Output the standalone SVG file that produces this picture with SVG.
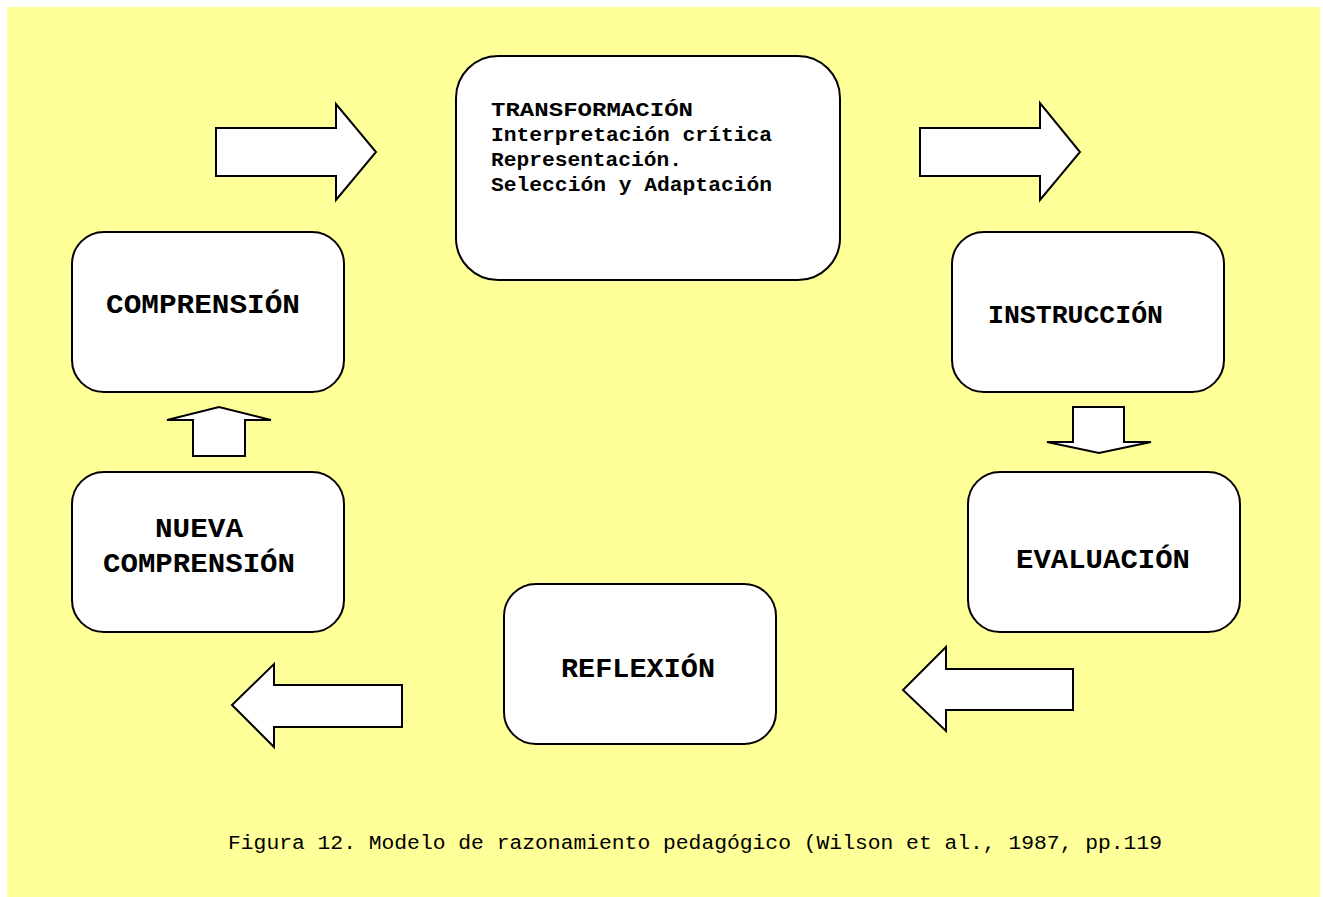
<svg xmlns="http://www.w3.org/2000/svg" width="1323" height="897" viewBox="0 0 1323 897">
<style>
.box{fill:#fff;stroke:#000;stroke-width:2}
.arr{fill:#fff;stroke:#000;stroke-width:2;stroke-linejoin:miter}
.t{font-family:"Liberation Mono","Courier New",monospace;font-weight:bold;fill:#000}
.cap{font-family:"Liberation Mono","Courier New",monospace;fill:#000;font-size:20px}
</style>
<rect x="7" y="7" width="1313" height="890" fill="#FFFF99"/>
<g id="connectors">
<polygon class="arr" points="216,128 336,128 336,104 376,152 336,200 336,176 216,176"/>
<polygon class="arr" points="920,128 1040,128 1040,103 1080,152 1040,200 1040,176 920,176"/>
<polygon class="arr" points="1073,407 1124,407 1124,442 1151,442 1099,453 1047,442 1073,442"/>
<polygon class="arr" points="1073,669 946,669 946,647 903,690 946,731 946,710 1073,710"/>
<polygon class="arr" points="402,685 274,685 274,664 232,705 274,747 274,727 402,727"/>
<polygon class="arr" points="193,456 193,420 167,420 219,407 271,420 245,420 245,456"/>
</g>
<g id="transformacion">
<rect class="box" x="456" y="56" width="384" height="224" rx="42" ry="42"/>
<text class="t" font-size="20" x="491" y="116" textLength="202" lengthAdjust="spacingAndGlyphs">TRANSFORMACIÓN</text>
<text class="t" font-size="20" x="491" y="141" textLength="281" lengthAdjust="spacingAndGlyphs">Interpretación crítica</text>
<text class="t" font-size="20" x="491" y="166" textLength="191" lengthAdjust="spacingAndGlyphs">Representación.</text>
<text class="t" font-size="20" x="491" y="191" textLength="281" lengthAdjust="spacingAndGlyphs">Selección y Adaptación</text>
</g>
<g id="instruccion">
<rect class="box" x="952" y="232" width="272" height="160" rx="32" ry="32"/>
<text class="t" font-size="26" x="988" y="323" textLength="175" lengthAdjust="spacingAndGlyphs">INSTRUCCIÓN</text>
</g>
<g id="comprension">
<rect class="box" x="72" y="232" width="272" height="160" rx="32" ry="32"/>
<text class="t" font-size="28" x="106" y="313" textLength="194" lengthAdjust="spacingAndGlyphs">COMPRENSIÓN</text>
</g>
<g id="nueva-comprension">
<rect class="box" x="72" y="472" width="272" height="160" rx="32" ry="32"/>
<text class="t" font-size="27" x="155" y="537" textLength="88" lengthAdjust="spacingAndGlyphs">NUEVA</text>
<text class="t" font-size="27" x="103" y="572" textLength="192" lengthAdjust="spacingAndGlyphs">COMPRENSIÓN</text>
</g>
<g id="evaluacion">
<rect class="box" x="968" y="472" width="272" height="160" rx="32" ry="32"/>
<text class="t" font-size="28" x="1016" y="568" textLength="174" lengthAdjust="spacingAndGlyphs">EVALUACIÓN</text>
</g>
<g id="reflexion">
<rect class="box" x="504" y="584" width="272" height="160" rx="32" ry="32"/>
<text class="t" font-size="27" x="561" y="677" textLength="154" lengthAdjust="spacingAndGlyphs">REFLEXIÓN</text>
</g>
<text class="cap" x="228" y="849" textLength="934" lengthAdjust="spacingAndGlyphs">Figura 12. Modelo de razonamiento pedagógico (Wilson et al., 1987, pp.119</text>
</svg>
